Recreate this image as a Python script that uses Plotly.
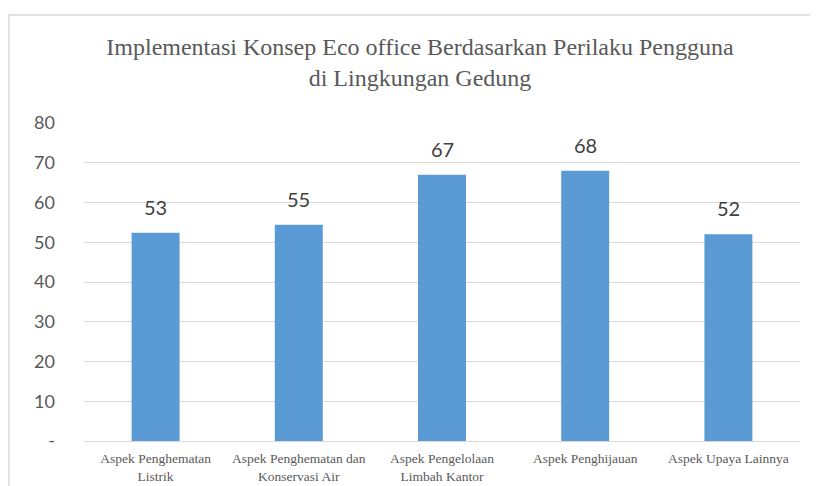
import plotly.graph_objects as go

categories = [
    "Aspek Penghematan<br>Listrik",
    "Aspek Penghematan dan<br>Konservasi Air",
    "Aspek Pengelolaan<br>Limbah Kantor",
    "Aspek Penghijauan",
    "Aspek Upaya Lainnya",
]
values = [52.4, 54.4, 67.0, 68.0, 52.0]
value_labels = ["53", "55", "67", "68", "52"]
y_ticks = [0, 10, 20, 30, 40, 50, 60, 70, 80]
y_tick_text = ["-", "10", "20", "30", "40", "50", "60", "70", "80"]

fig = go.Figure(go.Bar(
    x=categories,
    y=values,
    marker=dict(color="#5b9bd5", line=dict(width=0)),
    width=0.335,
))

# value labels sit a bit higher above the bars than plotly's default gap
for cat, val, lab in zip(categories, values, value_labels):
    fig.add_annotation(
        x=cat, y=val, text=lab, showarrow=False,
        yanchor="bottom", yshift=12,
        font=dict(family="Lato", size=20, color="#404040"),
    )

# page body has an 8px margin, so everything is placed 8px up/left
fig.update_layout(
    width=818, height=486,
    margin=dict(l=76, r=26, t=115, b=53, autoexpand=False),
    paper_bgcolor="white", plot_bgcolor="white",
    showlegend=False,
    title=dict(
        text="Implementasi Konsep Eco office Berdasarkan Perilaku Pengguna<br>di Lingkungan Gedung",
        font=dict(family="Liberation Serif", size=24, color="#595959"),
        x=412 / 818, xanchor="center", xref="container",
        y=1 - 47 / 486, yanchor="top", yref="container",
        automargin=False,
    ),
    xaxis=dict(
        tickfont=dict(family="Liberation Serif", size=13.5, color="#595959"),
        showline=True, linecolor="#d9d9d9", linewidth=1,
        ticks="", showgrid=False, automargin=False, ticklabelstandoff=5,
    ),
    yaxis=dict(
        range=[0, 80],
        tickvals=y_ticks, ticktext=y_tick_text,
        tickfont=dict(family="Lato", size=18, color="#595959"),
        showgrid=True, gridcolor="#d9d9d9", gridwidth=1,
        zeroline=False, ticks="", ticklabelstandoff=28,
        automargin=False,
    ),
    shapes=[dict(
        type="rect", xref="paper", yref="paper",
        x0=(9 - 84) / 716, x1=1.5, y0=-0.5, y1=(441 - 15) / 318,
        line=dict(color="#d9d9d9", width=1.5), fillcolor="rgba(0,0,0,0)",
        layer="below",
    )],
)

fig.write_html("out.html")
